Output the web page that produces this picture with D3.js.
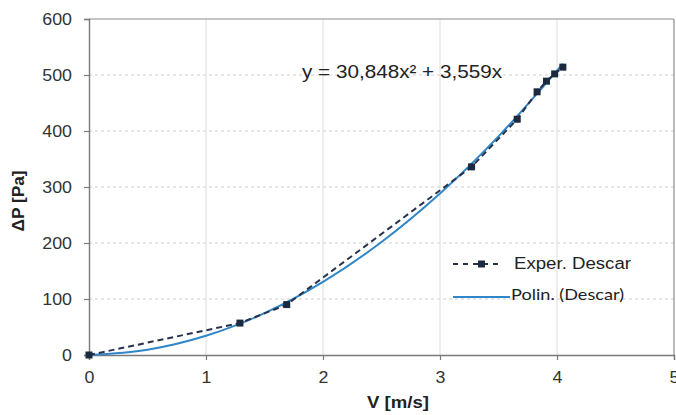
<!DOCTYPE html>
<html>
<head>
<meta charset="utf-8">
<script src="https://cdn.jsdelivr.net/npm/d3@7"></script>
<style>
html,body{margin:0;padding:0;background:#fff;}
svg{display:block;font-family:"Liberation Sans",Arial,sans-serif;}
</style>
</head>
<body>
<svg id="chart" width="676" height="415"></svg>
<script>
// Experimental data (Exper. Descar)
const expV = [0, 1.29, 1.69, 3.27, 3.66, 3.83, 3.91, 3.98, 4.05];
const expP = [0, 57, 90, 336, 421, 470, 489, 502, 514];
// Trendline readings (Polin. (Descar))
const trendV = [0, 0.5, 1, 1.5, 2, 2.5, 3, 3.5, 4, 4.05];
const trendP = [0, 9.5, 34.4, 74.7, 130.5, 201.7, 288.3, 390.3, 507.8, 520.4];
const xTicks = [0, 1, 2, 3, 4, 5];
const yTicks = [0, 100, 200, 300, 400, 500, 600];
const equationText = "y = 30,848x² + 3,559x";
const legendLabels = ["Exper. Descar", "Polin. (Descar)"];
const xTitle = "V [m/s]";
const yTitle = "ΔP [Pa]";

(function () {
const svg = d3.select("#chart");
const pL = 89, pR = 674, pT = 19, pB = 355;
const x = d3.scaleLinear().domain([0, 5]).range([pL, pR]);
const y = d3.scaleLinear().domain([0, 600]).range([pB, pT]);

// gridlines
svg.append("g").selectAll("line").data(xTicks.filter(d => d > 0 && d < 5)).join("line")
  .attr("x1", d => x(d)).attr("x2", d => x(d)).attr("y1", pT).attr("y2", pB)
  .attr("stroke", "#dcdcdc").attr("stroke-width", 1);
svg.append("g").selectAll("line").data(yTicks.filter(d => d > 0 && d < 600)).join("line")
  .attr("x1", pL).attr("x2", pR).attr("y1", d => y(d)).attr("y2", d => y(d))
  .attr("stroke", "#cfcfcf").attr("stroke-width", 1).attr("stroke-dasharray", "3,3");

// border top & right
svg.append("line").attr("x1", pL).attr("x2", pR).attr("y1", pT).attr("y2", pT)
  .attr("stroke", "#8c8c8c").attr("stroke-width", 1.2);
svg.append("line").attr("x1", pR).attr("x2", pR).attr("y1", pT).attr("y2", pB)
  .attr("stroke", "#8c8c8c").attr("stroke-width", 1.2);

// axes
const xAxis = svg.append("g").attr("transform", `translate(0,${pB})`)
  .call(d3.axisBottom(x).tickValues(xTicks).tickFormat(d3.format("d")).tickSize(5).tickPadding(12));
const yAxis = svg.append("g").attr("transform", `translate(${pL},0)`)
  .call(d3.axisLeft(y).tickValues(yTicks).tickFormat(d3.format("d")).tickSize(5).tickPadding(12));
[xAxis, yAxis].forEach(g => {
  g.select(".domain").attr("stroke", "#7a7a7a").attr("stroke-width", 1.4);
  g.selectAll(".tick line").attr("stroke", "#7a7a7a").attr("stroke-width", 1.2);
  g.selectAll(".tick text").attr("fill", "#333").attr("font-size", 16)
    .attr("font-family", "Liberation Sans, Arial, sans-serif")
    .attr("textLength", d => String(d).length * 9.9).attr("lengthAdjust", "spacingAndGlyphs");
});

// trendline
const trendData = trendV.map((v, i) => [v, trendP[i]]);
svg.append("path").datum(trendData)
  .attr("d", d3.line().x(d => x(d[0])).y(d => y(d[1])).curve(d3.curveCatmullRom))
  .attr("fill", "none").attr("stroke", "#2f86c9").attr("stroke-width", 2);

// experimental dashed line
const expData = expV.map((v, i) => [v, expP[i]]);
svg.append("path").datum(expData)
  .attr("d", d3.line().x(d => x(d[0])).y(d => y(d[1])))
  .attr("fill", "none").attr("stroke", "#27324d").attr("stroke-width", 2)
  .attr("stroke-dasharray", "6,4");
svg.append("g").selectAll("rect").data(expData).join("rect")
  .attr("x", d => x(d[0]) - 3.5).attr("y", d => y(d[1]) - 3.5)
  .attr("width", 7).attr("height", 7).attr("fill", "#1c2a3f");

// equation
svg.append("text").attr("x", 302).attr("y", 78).text(equationText)
  .attr("font-size", 19).attr("fill", "#222")
  .attr("textLength", 200).attr("lengthAdjust", "spacingAndGlyphs");

// legend
const lg = svg.append("g");
lg.append("line").attr("x1", 453).attr("x2", 502).attr("y1", 264).attr("y2", 264)
  .attr("stroke", "#27324d").attr("stroke-width", 2).attr("stroke-dasharray", "5,5");
lg.append("rect").attr("x", 478).attr("y", 260.5).attr("width", 7).attr("height", 7).attr("fill", "#1c2a3f");
lg.append("text").attr("x", 514).attr("y", 269).text(legendLabels[0])
  .attr("font-size", 16).attr("fill", "#222")
  .attr("textLength", 117).attr("lengthAdjust", "spacingAndGlyphs");
lg.append("line").attr("x1", 453).attr("x2", 510).attr("y1", 297).attr("y2", 297)
  .attr("stroke", "#2f86c9").attr("stroke-width", 2);
lg.append("text").attr("x", 511).attr("y", 300).text(legendLabels[1])
  .attr("font-size", 16).attr("fill", "#222").attr("font-family", "Lato, 'Open Sans', sans-serif")
  .attr("textLength", 113).attr("lengthAdjust", "spacingAndGlyphs");

// axis titles
svg.append("text").attr("x", 398).attr("y", 408).attr("text-anchor", "middle")
  .text(xTitle).attr("font-size", 16).attr("font-weight", "bold").attr("fill", "#222")
  .attr("textLength", 62).attr("lengthAdjust", "spacingAndGlyphs");
svg.append("text").attr("transform", "translate(24,201) rotate(-90)").attr("text-anchor", "middle")
  .text(yTitle).attr("font-size", 16).attr("font-weight", "bold").attr("fill", "#222")
  .attr("textLength", 61).attr("lengthAdjust", "spacingAndGlyphs");
})();
</script>
</body>
</html>
